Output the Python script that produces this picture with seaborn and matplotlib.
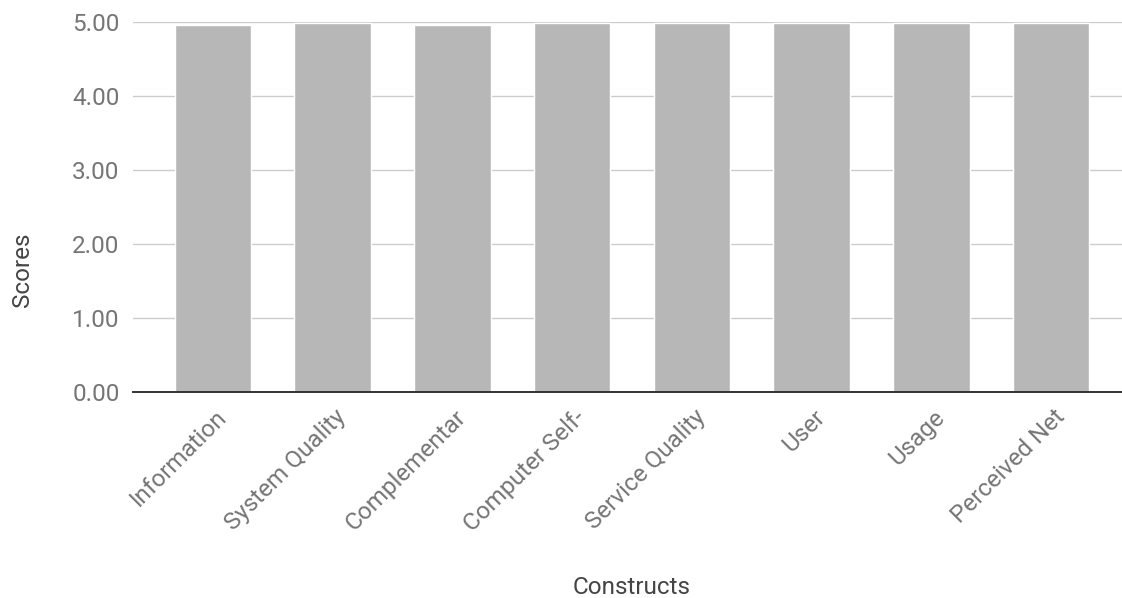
import matplotlib
matplotlib.use("Agg")
import matplotlib.pyplot as plt
import matplotlib.transforms as mtransforms
import seaborn as sns
import pandas as pd

categories = ["Information", "System Quality", "Complementar", "Computer Self-",
              "Service Quality", "User", "Usage", "Perceived Net"]
scores = [4.96, 4.99, 4.96, 4.99, 4.99, 4.99, 4.99, 4.99]
y_ticks = [0, 1, 2, 3, 4, 5]

sns.set_theme(style="white")
plt.rcParams['font.family'] = ['Roboto', 'DejaVu Sans']

df = pd.DataFrame({"Constructs": categories, "Scores": scores})

W, H = 1122, 598
fig = plt.figure(figsize=(W / 100, H / 100), dpi=100)
ax = fig.add_axes([133 / W, 1 - 392 / H, (1122 - 133) / W, (392 - 22) / H])
sns.barplot(data=df, x="Constructs", y="Scores", color="#b7b7b7", width=0.64,
            saturation=1, ax=ax)
ax.set_ylim(0, 5)
ax.set_yticks(y_ticks)
ax.set_yticklabels([f"{v:.2f}" for v in y_ticks], fontsize=17.5, color="#757575")
ax.set_xlim(-0.668, 7.593)
ax.grid(axis="y", color="#cccccc", linewidth=1)
ax.set_axisbelow(True)
for s in ["top", "right", "left"]:
    ax.spines[s].set_visible(False)
ax.spines["bottom"].set_color("#333333")
ax.spines["bottom"].set_linewidth(1.4)
ax.tick_params(axis="y", length=0, pad=9.7)
ax.tick_params(axis="x", length=0, pad=15.6)
offset = mtransforms.ScaledTranslation(10 / 100, 0, fig.dpi_scale_trans)
for lab in ax.get_xticklabels():
    lab.set_rotation(45)
    lab.set_ha("right")
    lab.set_va("center")
    lab.set_rotation_mode("anchor")
    lab.set_fontsize(17.5)
    lab.set_color("#757575")
    lab.set_transform(lab.get_transform() + offset)
ax.set_xlabel("")
ax.set_ylabel("")
fig.text(632 / W, 1 - 587 / H, "Constructs", fontsize=17.5, color="#444444",
         ha="center", va="center")
fig.text(23 / W, 1 - 270 / H, "Scores", fontsize=17.5, color="#444444",
         ha="center", va="center", rotation=90)
fig.savefig("out.png", dpi=100)
